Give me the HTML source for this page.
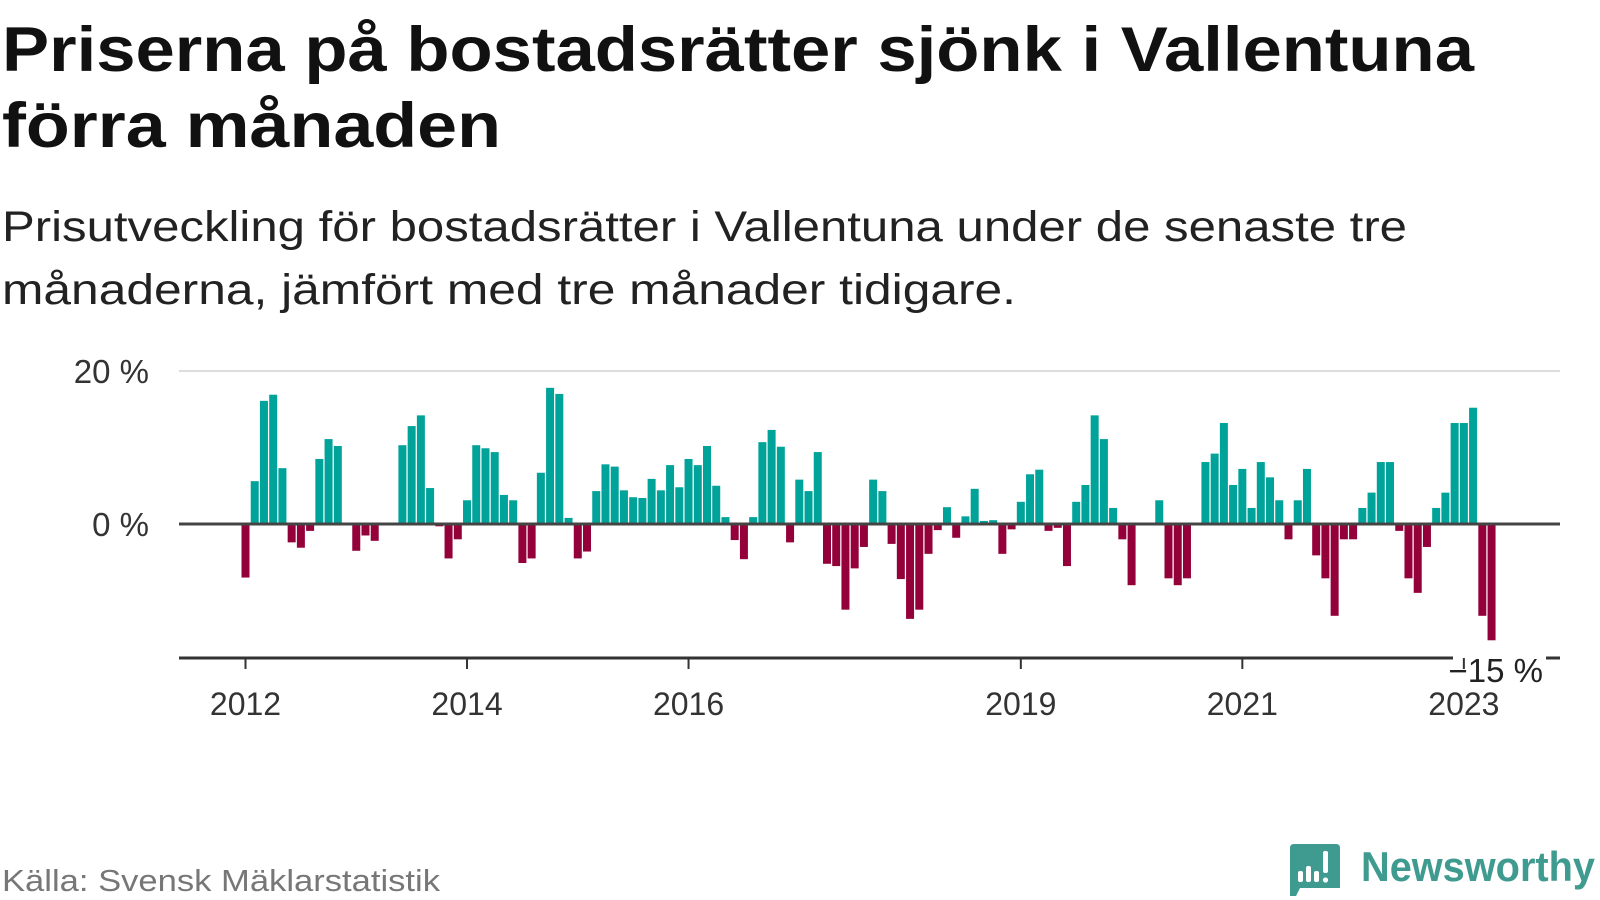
<!DOCTYPE html>
<html><head><meta charset="utf-8"><style>
html,body{margin:0;padding:0;background:#fff;width:1600px;height:900px;overflow:hidden}
svg{display:block}
text{font-family:"Liberation Sans",sans-serif}
</style></head><body>
<svg id="chart" width="1600" height="900" viewBox="0 0 1600 900" xmlns="http://www.w3.org/2000/svg">
<text x="2" y="71" font-size="63" font-weight="bold" fill="#111" textLength="1472" lengthAdjust="spacingAndGlyphs">Priserna på bostadsrätter sjönk i Vallentuna</text>
<text x="2" y="147" font-size="63" font-weight="bold" fill="#111" textLength="499" lengthAdjust="spacingAndGlyphs">förra månaden</text>
<text x="2" y="241" font-size="43" fill="#222" textLength="1405" lengthAdjust="spacingAndGlyphs">Prisutveckling för bostadsrätter i Vallentuna under de senaste tre</text>
<text x="2" y="304" font-size="43" fill="#222" textLength="1014" lengthAdjust="spacingAndGlyphs">månaderna, jämfört med tre månader tidigare.</text>
<g id="plot"></g>
<text x="2" y="891" font-size="31" fill="#777" textLength="438" lengthAdjust="spacingAndGlyphs">Källa: Svensk Mäklarstatistik</text>
<g>
<path d="M1290 848 Q1290 844 1294 844 L1336 844 Q1340 844 1340 848 L1340 888 L1300 888 L1296 896 L1290 896 Z" fill="#3f9a90"/>
<rect x="1298" y="871" width="5" height="11" rx="2" fill="#fff"/>
<rect x="1306" y="866" width="5" height="16" rx="2" fill="#fff"/>
<rect x="1314" y="871" width="5" height="11" rx="2" fill="#fff"/>
<rect x="1323" y="851" width="5" height="22" rx="2" fill="#fff"/>
<circle cx="1325.5" cy="880" r="2.6" fill="#fff"/>
<text x="1361" y="881" font-size="42" font-weight="bold" fill="#3f9a90" textLength="234" lengthAdjust="spacingAndGlyphs">Newsworthy</text>
</g>
</svg>
<script>
const values = [-7.0,5.6,16.1,16.9,7.3,-2.4,-3.1,-0.9,8.5,11.1,10.2,null,-3.5,-1.5,-2.2,null,null,10.3,12.8,14.2,4.7,-0.3,-4.5,-2.0,
3.1,10.3,9.9,9.4,3.8,3.1,-5.1,-4.5,6.7,17.8,17.0,0.8,-4.5,-3.6,4.3,7.8,7.5,4.4,3.5,3.4,5.9,4.4,7.7,4.8,
8.5,7.7,10.2,5.0,0.9,-2.1,-4.6,0.9,10.7,12.3,10.1,-2.4,5.8,4.3,9.4,-5.2,-5.5,-11.2,-5.8,-3.0,5.8,4.3,-2.6,-7.2,
-12.4,-11.2,-3.9,-0.8,2.2,-1.8,1.0,4.6,0.4,0.5,-3.9,-0.7,2.9,6.5,7.1,-0.9,-0.5,-5.5,2.9,5.1,14.2,11.1,2.1,-2.0,
-8.0,null,null,3.1,-7.1,-8.0,-7.1,null,8.1,9.2,13.2,5.1,7.2,2.1,8.1,6.1,3.1,-2.0,3.1,7.2,-4.1,-7.1,-12.0,-2.0,
-2.0,2.1,4.1,8.1,8.1,-0.9,-7.1,-9.0,-3.0,2.1,4.1,13.2,13.2,15.2,-12.0,-15.2];
const tickYears = ["2012","2014","2016","2019","2021","2023"];
const tickMonthIdx = [0,24,48,84,108,132];
const yTickValues = [20,0];
const yTickLabels = ["20 %","0 %"];
const minLabel = "−15 %";

const NS="http://www.w3.org/2000/svg";
const plot=document.getElementById('plot');
const x0=245.5, step=9.23, y0=524, pxPer=7.65;
function xs(i){return x0+i*step;}
function ys(v){return y0-v*pxPer;}
function mk(tag,attrs){const e=document.createElementNS(NS,tag);for(const k in attrs)e.setAttribute(k,attrs[k]);plot.appendChild(e);return e;}

yTickValues.forEach((v,i)=>{
  if(v!==0){const g=mk('line',{x1:179,x2:1560,y1:ys(v),y2:ys(v),stroke:'#ddd','stroke-width':2});
  
  }
  const t=mk('text',{x:149,y:ys(v)+12,'font-size':33,fill:'#333','text-anchor':'end'});
  t.textContent=yTickLabels[i];
  
  
});

values.forEach((v,i)=>{
  if(v===null)return;
  const top=Math.min(ys(v),y0), h=Math.abs(ys(v)-y0);
  const r=mk('rect',{x:xs(i)-4,y:top,width:8,height:h,fill:v>=0?'#00a39a':'#93003a'});
  
  
});

const zl=mk('line',{x1:179,x2:1560,y1:y0,y2:y0,stroke:'#444','stroke-width':3});



const by=658;
const bl=mk('line',{x1:179,x2:1453,y1:by,y2:by,stroke:'#333','stroke-width':3});


const bl2=mk('line',{x1:1546,x2:1560,y1:by,y2:by,stroke:'#333','stroke-width':3});


const ml=mk('text',{x:1543,y:by+24,'font-size':33,fill:'#222','text-anchor':'end'});
ml.textContent=minLabel;



tickYears.forEach((yr,i)=>{
  const x=xs(tickMonthIdx[i]);
  const tk=mk('line',{x1:x,x2:x,y1:by,y2:by+11,stroke:'#333','stroke-width':2});
  
  
  const t=mk('text',{x:x,y:715,'font-size':32,fill:'#333','text-anchor':'middle'});
  t.textContent=yr;
  
  
});
</script>
</body></html>
